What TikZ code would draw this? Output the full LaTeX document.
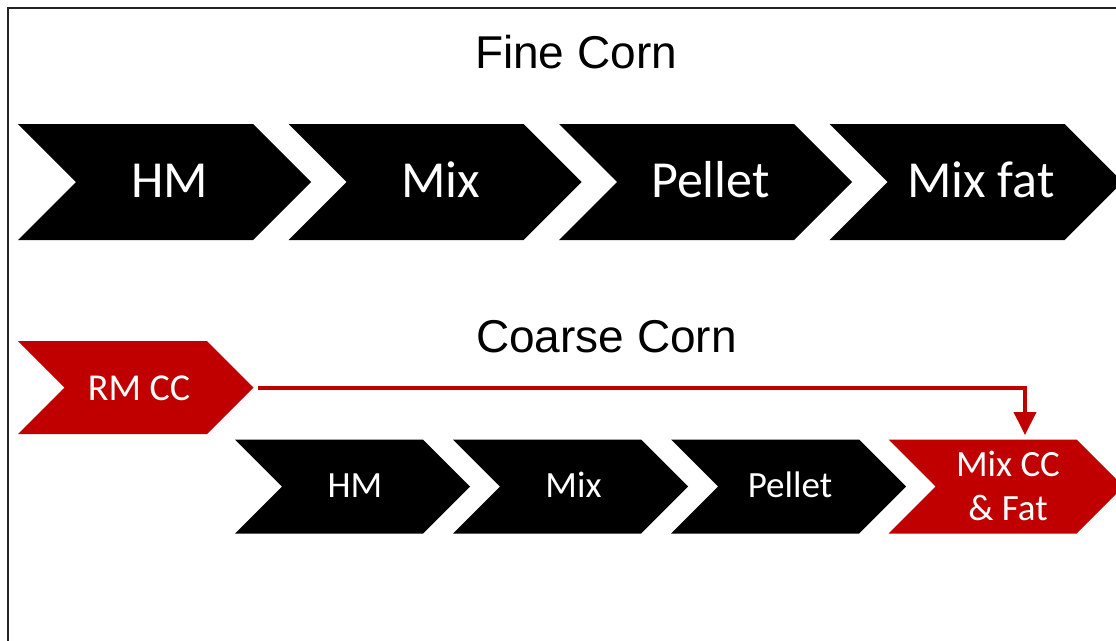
\documentclass[tikz,border=0pt]{standalone}
\usepackage{fontspec}
\setmainfont{Carlito}
\newfontfamily\headfont{Liberation Sans}
\usetikzlibrary{arrows.meta}

\definecolor{procred}{HTML}{C00000}
\definecolor{framegray}{HTML}{222222}

% chevron: name, left x, top y, flat length, height, fill colour
\newcommand\chevronshape[6]{%
  \fill[#6] (#2,#3) -- ++(#4,0) -- ++(#5/2,#5/2) -- ++(-#5/2,#5/2)
     -- ++(-#4,0) -- ++(#5/2,-#5/2) -- cycle;
  \coordinate (#1-tip) at ({#2+#4+#5/2},{#3+#5/2});
}

\tikzset{
  x=1pt, y=-1pt,
  headtext/.style={font=\headfont\fontsize{46}{55}\selectfont, text=black, anchor=base, inner sep=0},
  biglabel/.style={font=\fontsize{52}{62}\selectfont, text=white, anchor=base, inner sep=0},
  smalllabel/.style={font=\fontsize{37}{44}\selectfont, text=white, anchor=base, inner sep=0},
  flow/.style={draw=procred, line width=4pt, -{Triangle[width=22pt,length=23pt]}},
}

\begin{document}
\begin{tikzpicture}
\useasboundingbox (0,0) rectangle (1116,640);
\clip (0,0) rectangle (1116,640);
\fill[white] (0,0) rectangle (1116,640);

% outer frame
\draw[framegray, line width=2pt] (8,650) -- (8,8) -- (1130,8);

% titles
\node[headtext] (fine) at (576,68) {Fine Corn};
\node[headtext] (coarse) at (606.5,352) {Coarse Corn};

% fine corn process row
\chevronshape{f1}{18}{124}{235}{116}{black}
\chevronshape{f2}{288.5}{124}{235}{116}{black}
\chevronshape{f3}{559}{124}{235}{116}{black}
\chevronshape{f4}{829.5}{124}{235}{116}{black}
\node[biglabel] (fhm) at (169.5,197) {HM};
\node[biglabel] (fmix) at (440.5,197) {Mix};
\node[biglabel] (fpellet) at (710.5,197) {Pellet};
\node[biglabel] (ffat) at (981,197) {Mix fat};

% coarse corn process row
\chevronshape{rm}{18}{341}{189}{93}{procred}
\node[smalllabel, font=\fontsize{38}{45}\selectfont] (rmcc) at (139,400) {RM CC};

\chevronshape{c1}{235}{439.5}{188}{94}{black}
\chevronshape{c2}{453}{439.5}{188}{94}{black}
\chevronshape{c3}{671}{439.5}{188}{94}{black}
\chevronshape{c4}{888.5}{439.5}{188}{94}{procred}
\node[smalllabel] (chm) at (355,497) {HM};
\node[smalllabel] (cmix) at (573.5,497) {Mix};
\node[smalllabel] (cpellet) at (790,497) {Pellet};
\node[smalllabel, anchor=center, align=center] (cmixcc) at (1008,485.5) {Mix CC\\\& Fat};

% cracked corn bypass into the final mixing step
\coordinate (drop) at (1025,435);
\draw[flow] ([xshift=4pt]rm-tip) -| (drop);
\end{tikzpicture}
\end{document}
